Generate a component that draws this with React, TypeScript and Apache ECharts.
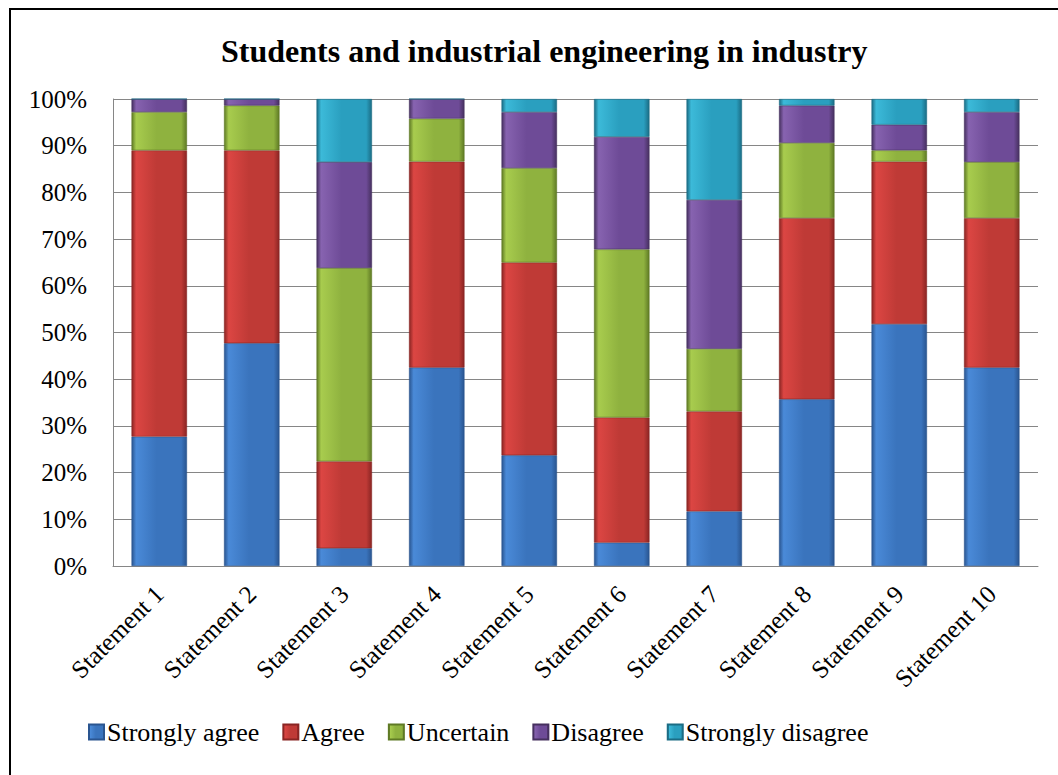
import React, { useEffect, useRef } from "react";
import * as echarts from "echarts";

const categories = [
  "Statement 1", "Statement 2", "Statement 3", "Statement 4", "Statement 5",
  "Statement 6", "Statement 7", "Statement 8", "Statement 9", "Statement 10",
];

const stronglyAgree = [27.7, 47.7, 3.8, 42.5, 23.7, 5.0, 11.7, 35.7, 51.8, 42.5];
const agree = [61.3, 41.3, 18.6, 44.1, 41.3, 26.8, 21.4, 38.8, 34.8, 32.0];
const uncertain = [8.2, 9.6, 41.4, 9.2, 20.2, 36.0, 13.4, 16.1, 2.4, 12.0];
const disagree = [2.8, 1.4, 22.7, 4.2, 12.0, 24.1, 31.9, 8.0, 5.5, 10.7];
const stronglyDisagree = [0, 0, 13.5, 0, 2.8, 8.1, 21.6, 1.4, 5.5, 2.8];

const seriesNames = ["Strongly agree", "Agree", "Uncertain", "Disagree", "Strongly disagree"];
const seriesData = [stronglyAgree, agree, uncertain, disagree, stronglyDisagree];

// [edge, highlight, body] shades for the bevelled bar look
const palette = [
  ["#2a5590", "#4a8ad8", "#3a74bd"],
  ["#8a2523", "#dc4643", "#bf3a36"],
  ["#5f7a25", "#a8cc4e", "#8fb23f"],
  ["#46305f", "#8763b0", "#6e4b97"],
  ["#1b6c84", "#3cbad9", "#2a9fbf"],
];

const FONT = "'Liberation Serif', 'Times New Roman', serif";

function barFill(c: string[]) {
  return new echarts.graphic.LinearGradient(0, 0, 1, 0, [
    { offset: 0, color: c[0] },
    { offset: 0.08, color: c[1] },
    { offset: 0.45, color: c[2] },
    { offset: 0.9, color: c[2] },
    { offset: 1, color: c[0] },
  ]);
}

export default function App() {
  const ref = useRef<HTMLDivElement>(null);

  useEffect(() => {
    document.body.style.margin = "0";
    const chart = echarts.init(ref.current!, undefined, { renderer: "svg" });
    chart.setOption({
      animation: false,
      backgroundColor: "#ffffff",
      title: {
        text: "Students and industrial engineering in industry",
        left: 216,
        top: 30,
        textStyle: { fontFamily: FONT, fontSize: 32, fontWeight: "bold", color: "#000" },
      },
      graphic: [
        {
          type: "rect",
          shape: { x: 10, y: 9, width: 1100, height: 820 },
          style: { fill: "none", stroke: "#000", lineWidth: 2 },
          silent: true,
        },
      ],
      legend: {
        left: 83,
        top: 714,
        itemWidth: 15,
        itemHeight: 15,
        itemGap: 23,
        icon: "rect",
        textStyle: { fontFamily: FONT, fontSize: 26, color: "#000", padding: [0, 0, 0, -2] },
        data: seriesNames,
      },
      grid: { left: 113, top: 99, right: 20, bottom: 209, containLabel: false },
      xAxis: {
        type: "category",
        data: categories,
        axisLine: { show: true, lineStyle: { color: "#868686", width: 1 } },
        axisTick: { show: false },
        axisLabel: {
          rotate: 45,
          margin: 24,
          interval: 0,
          fontFamily: FONT,
          fontSize: 25,
          color: "#000",
        },
      },
      yAxis: {
        type: "value",
        min: 0,
        max: 100,
        interval: 10,
        axisLine: { show: true, lineStyle: { color: "#868686", width: 1 } },
        axisTick: { show: false },
        splitLine: { show: true, lineStyle: { color: "#868686", width: 1 } },
        axisLabel: {
          formatter: "{value}%",
          margin: 26,
          fontFamily: FONT,
          fontSize: 25,
          color: "#000",
        },
      },
      series: seriesNames.map((name, i) => ({
        name,
        type: "bar",
        stack: "total",
        barCategoryGap: "40%",
        data: seriesData[i],
        itemStyle: {
          color: barFill(palette[i]),
          borderColor: palette[i][0],
          borderWidth: 0.6,
        },
      })),
    });
    return () => chart.dispose();
  }, []);

  return <div ref={ref} style={{ width: 1058, height: 775 }} />;
}
